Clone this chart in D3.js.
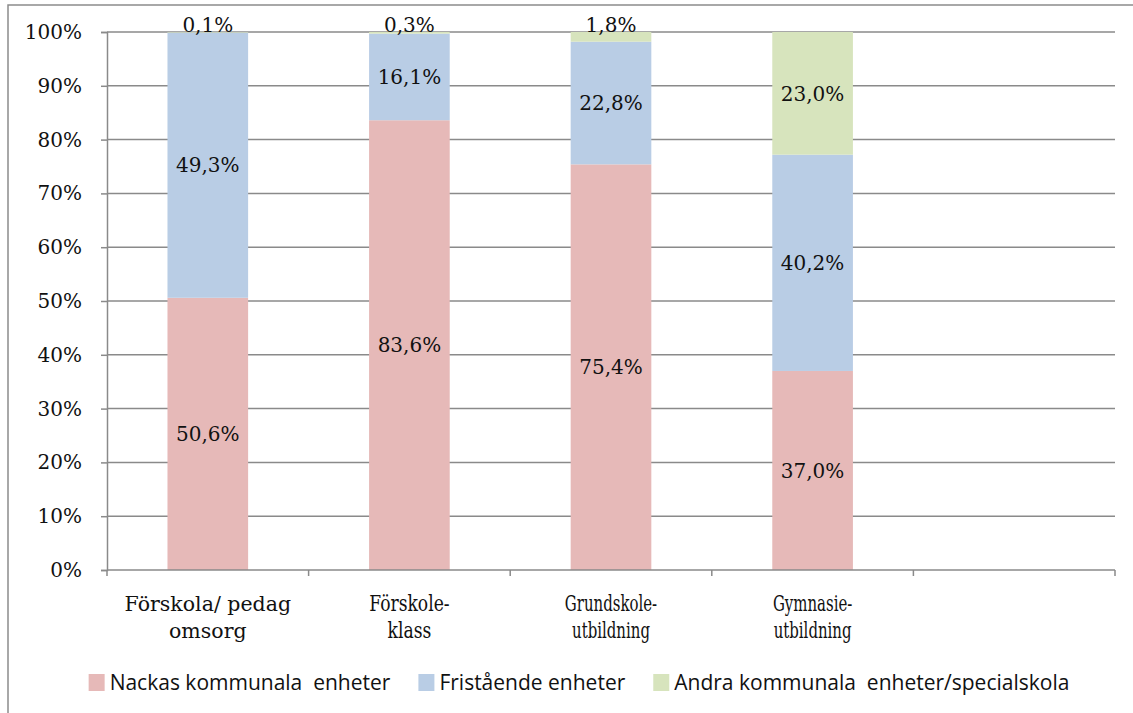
<!DOCTYPE html>
<html>
<head>
<meta charset="utf-8">
<script src="https://cdn.jsdelivr.net/npm/d3@7"></script>
<style>
  html, body { margin: 0; padding: 0; background: #fff; }
  svg { display: block; }
</style>
</head>
<body>
<svg id="chart" width="1133" height="713"></svg>
<script>
// ---- data ----
const categories = [
  ["Förskola/ pedag", "omsorg"],
  ["Förskole-", "klass"],
  ["Grundskole-", "utbildning"],
  ["Gymnasie-", "utbildning"],
  ["", ""]
];
const seriesNames = ["Nackas kommunala  enheter", "Fristående enheter", "Andra kommunala  enheter/specialskola"];
const nackas     = [50.6, 83.6, 75.4, 37.0];
const fristaende = [49.3, 16.1, 22.8, 40.2];
const andra      = [0.1, 0.3, 1.8, 23.0];
const yTicks = [0, 10, 20, 30, 40, 50, 60, 70, 80, 90, 100];

// ---- style ----
const colors = ["#E6B9B8", "#B9CDE5", "#D7E4BD"];
const gridColor = "#8a8a8a";
const serif = "'DejaVu Serif', serif";
const sans = "'Open Sans', Lato, sans-serif";
const labelSqueeze = [1, 0.78, 0.68, 0.68, 1];
const labelSize = [20.5, 22, 22, 22, 22];

const svg = d3.select("#chart");
const margin = { left: 107, right: 1115, top: 32, bottom: 570 };

// outer frame
svg.append("path")
  .attr("d", "M8,713 L8,5 L1133,5")
  .attr("fill", "none").attr("stroke", "#8c8c8c").attr("stroke-width", 1.5);

const keys = categories.map((c, i) => i);
const x = d3.scaleBand().domain(keys).range([margin.left, margin.right])
  .paddingInner(0.6).paddingOuter(0.3);
const y = d3.scaleLinear().domain([0, 100]).range([margin.bottom, margin.top]);

// gridlines
svg.append("g").selectAll("line").data(yTicks.filter(t => t > 0)).join("line")
  .attr("x1", margin.left).attr("x2", margin.right)
  .attr("y1", d => y(d)).attr("y2", d => y(d))
  .attr("stroke", gridColor).attr("stroke-width", 1.5);

// stacked data
const rows = nackas.map((v, i) => ({ idx: i, s0: nackas[i], s1: fristaende[i], s2: andra[i] }));
const stack = d3.stack().keys(["s0", "s1", "s2"]);
const stacked = stack(rows);

const fmt = v => d3.format(".1f")(v).replace(".", ",") + "%";

stacked.forEach((layer, li) => {
  const g = svg.append("g");
  g.selectAll("rect").data(layer).join("rect")
    .attr("x", d => x(d.data.idx))
    .attr("width", x.bandwidth())
    .attr("y", d => y(Math.min(100, d[1])))
    .attr("height", d => Math.max(0, y(d[0]) - y(Math.min(100, d[1]))))
    .attr("fill", colors[li]);
});

// labels
stacked.forEach((layer, li) => {
  svg.append("g").selectAll("text").data(layer).join("text")
    .attr("x", d => x(d.data.idx) + x.bandwidth() / 2)
    .attr("y", d => {
      const top = y(Math.min(100, d[1])), bot = y(d[0]);
      return (bot - top) < 20 ? margin.top - 7 : (top + bot) / 2;
    })
    .attr("dy", "0.36em")
    .attr("text-anchor", "middle")
    .attr("font-family", serif).attr("font-size", 20).attr("fill", "#111")
    .text(d => fmt(d[1] - d[0]));
});

// y axis
const yAxis = d3.axisLeft(y).tickValues(yTicks).tickSize(6).tickPadding(19)
  .tickFormat(d => d + "%");
const gy = svg.append("g").attr("transform", `translate(${margin.left},0)`).call(yAxis);
gy.select(".domain").attr("stroke", gridColor).attr("stroke-width", 1.5);
gy.selectAll(".tick line").attr("stroke", gridColor).attr("stroke-width", 1.5);
gy.selectAll(".tick text").attr("font-family", serif).attr("font-size", 20).attr("fill", "#111");

// x axis
const step = x.step();
const xTickPos = d3.range(categories.length + 1).map(i => margin.left + i * step);
svg.append("line")
  .attr("x1", margin.left).attr("x2", margin.right)
  .attr("y1", margin.bottom).attr("y2", margin.bottom)
  .attr("stroke", gridColor).attr("stroke-width", 1.5);
svg.append("g").selectAll("line").data(xTickPos).join("line")
  .attr("x1", d => d).attr("x2", d => d)
  .attr("y1", margin.bottom).attr("y2", margin.bottom + 6)
  .attr("stroke", gridColor).attr("stroke-width", 1.5);

const catG = svg.append("g").selectAll("g").data(categories).join("g")
  .attr("transform", (d, i) => `translate(${x(i) + x.bandwidth() / 2},0) scale(${labelSqueeze[i]},1)`);
catG.each(function(d, i) {
  const g = d3.select(this);
  d.forEach((line, li) => {
    g.append("text")
      .attr("x", 0).attr("y", 611 + li * 27)
      .attr("text-anchor", "middle")
      .attr("font-family", serif).attr("font-size", labelSize[i]).attr("fill", "#111")
      .text(line);
  });
});

// legend
const leg = svg.append("g");
let cx = 0;
seriesNames.forEach((name, i) => {
  const g = leg.append("g");
  g.append("rect").attr("x", 0).attr("y", 674).attr("width", 16).attr("height", 17).attr("fill", colors[i]);
  const t = g.append("text").attr("x", 21).attr("y", 690)
    .attr("font-family", sans).attr("font-size", 21).attr("fill", "#111")
    .style("white-space", "pre").text(name);
  const w = 21 + t.node().getComputedTextLength();
  g.attr("transform", `translate(${cx},0)`);
  cx += w + 28;
});
const totalW = cx - 28;
leg.attr("transform", `translate(${579 - totalW / 2},0)`);
</script>
</body>
</html>
